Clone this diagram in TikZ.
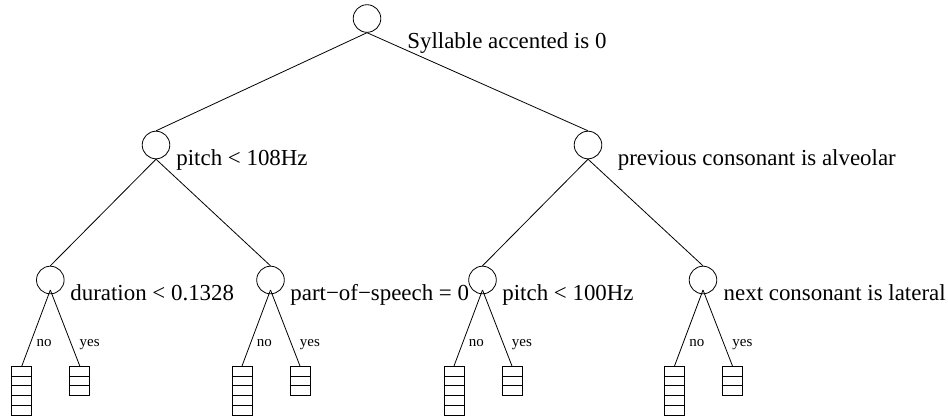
\documentclass[tikz,border=0pt]{standalone}
\usepackage{fontspec}
\setmainfont{Liberation Serif}
\begin{document}
\begin{tikzpicture}[x=1pt,y=-1pt,
  every path/.style={line width=0.8pt},
  test/.style={draw, circle, minimum size=27.6pt, inner sep=0pt},
  cond/.style={anchor=base west, inner sep=0pt, font=\fontsize{22.9}{27}\selectfont},
  branch/.style={anchor=base west, inner sep=0pt, font=\fontsize{15}{18}\selectfont},
  cellbox/.style={draw, rectangle, anchor=north, inner sep=0pt,
    minimum width=20pt, minimum height=#1*9.7pt},
  box5/.style={cellbox=5, path picture={
    \foreach \k in {1,2,3,4}
      \draw ([yshift=-\k*9.7pt]path picture bounding box.north west) --
            ([yshift=-\k*9.7pt]path picture bounding box.north east);}},
  box3/.style={cellbox=3, path picture={
    \foreach \k in {1,2}
      \draw ([yshift=-\k*9.7pt]path picture bounding box.north west) --
            ([yshift=-\k*9.7pt]path picture bounding box.north east);}}
]
\useasboundingbox (0,0) rectangle (948,416);

% decision nodes
\node[test] (r)  at (367,18.5) {};
\node[test] (a)  at (156,145) {};
\node[test] (b)  at (588,145) {};
\node[test] (c1) at (50.3,280) {};
\node[test] (c2) at (270.5,280) {};
\node[test] (c3) at (482.5,280) {};
\node[test] (c4) at (703,280) {};

% questions asked at each node
\node[cond] (tr)  at (407,48)  {Syllable accented is 0};
\node[cond] (ta)  at (176,165) {pitch < 108Hz};
\node[cond] (tb)  at (617.5,165) {previous consonant is alveolar};
\node[cond] (tc1) at (70,300)  {duration < 0.1328};
\node[cond] (tc2) at (290,300) {part−of−speech = 0};
\node[cond] (tc3) at (502,300) {pitch < 100Hz};
\node[cond] (tc4) at (723.3,300) {next consonant is lateral};

% tree edges
\draw (r.south) -- (a.north);
\draw (r.south) -- (b.north);
\draw (a.south) -- (c1.north);
\draw (a.south) -- (c2.north);
\draw (b.south) -- (c3.north);
\draw (b.south) -- (c4.north);

% leaves: distributions under each test
\foreach \n in {c1,c2,c3,c4} {
  \coordinate (\n a) at ([yshift=-10pt]\n.center);
  \node[box5] (\n no)  at ([xshift=-28.5pt]\n.center |- 0,366) {};
  \node[box3] (\n yes) at ([xshift=29.5pt]\n.center |- 0,366) {};
  \draw (\n a) -- (\n no.north);
  \draw (\n a) -- (\n yes.north);
  \node[branch] (\n lno)  at ([xshift=-14pt]\n.center |- 0,346) {no};
  \node[branch] (\n lyes) at ([xshift=29pt]\n.center |- 0,346) {yes};
}
\end{tikzpicture}
\end{document}
